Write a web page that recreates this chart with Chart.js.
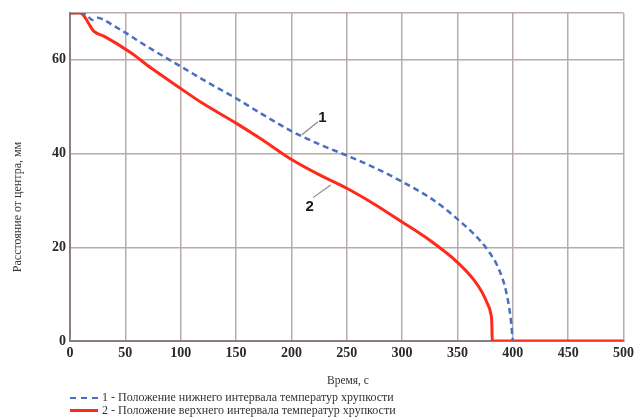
<!DOCTYPE html>
<html>
<head>
<meta charset="utf-8">
<script src="https://cdn.jsdelivr.net/npm/chart.js@4"></script>
<style>
  body { margin: 0; background: #fff; }
  #wrap { position: relative; width: 638px; height: 419px; }
  .legend { position: absolute; left: 70px; font-family: "Liberation Serif", serif; font-size: 12px; color: #333; }
  .legend div { display: flex; align-items: center; height: 13px; }
  .legend span.s { display: inline-block; width: 28px; margin-right: 4px; }
</style>
</head>
<body>
<div id="wrap">
  <canvas id="chart" width="638" height="419"></canvas>
  <div class="legend" style="top:391px">
    <div><span class="s" style="border-top:2.5px dashed #4a6fc0"></span>1 - Положение нижнего интервала температур хрупкости</div>
    <div><span class="s" style="border-top:3px solid #ff2a1a"></span>2 - Положение верхнего интервала температур хрупкости</div>
  </div>
</div>
<script>
// time, s
const lowerTime = [0, 10, 15, 20, 25, 30, 40, 50, 70, 100, 125, 150, 175, 200, 225, 250, 275, 300, 325, 340, 352, 365, 378, 388, 394, 398, 400];
// distance from centre, mm (curve 1, lower interval)
const lowerDist = [70, 70, 69.6, 68.5, 69, 68.6, 67.2, 65.8, 62.8, 58.6, 55.1, 51.8, 48.2, 44.8, 42, 39.6, 37, 34, 30.6, 28, 25.6, 22.8, 19.2, 15, 10.5, 5, 0];

const upperTime = [0, 9, 22, 31, 55, 73, 95, 118, 150, 172, 199, 225, 250, 275, 300, 325, 350, 365, 372, 377, 380, 381, 381.5, 500];
// curve 2, upper interval
const upperDist = [70, 70, 66, 65, 61.5, 58.3, 54.7, 51, 46.5, 43.2, 38.9, 35.5, 32.6, 29.2, 25.4, 21.5, 16.8, 13, 10.5, 8, 6, 4, 0, 0];

const xTicks = [0, 50, 100, 150, 200, 250, 300, 350, 400, 450, 500];
const yTicks = [0, 20, 40, 60];

const toPoints = (xs, ys) => xs.map((x, i) => ({ x: x, y: ys[i] }));

// numbered callouts with leader lines
const callouts = [
  { text: "1", at: [228, 47.6], line: [[224, 46.8], [209.5, 44]] },
  { text: "2", at: [216.5, 28.6], line: [[219.5, 30.6], [235.5, 33.3]] },
];

const extras = {
  id: "extras",
  afterDatasetsDraw(chart) {
    const { ctx, scales } = chart;
    const x = scales.x, y = scales.y;
    ctx.save();
    ctx.strokeStyle = "#8a8a8a";
    ctx.lineWidth = 1.2;
    ctx.fillStyle = "#1a1a1a";
    ctx.font = "bold 15px 'Liberation Sans', sans-serif";
    ctx.textAlign = "center";
    ctx.textBaseline = "middle";
    callouts.forEach(c => {
      ctx.beginPath();
      ctx.moveTo(x.getPixelForValue(c.line[0][0]), y.getPixelForValue(c.line[0][1]));
      ctx.lineTo(x.getPixelForValue(c.line[1][0]), y.getPixelForValue(c.line[1][1]));
      ctx.stroke();
      ctx.fillText(c.text, x.getPixelForValue(c.at[0]), y.getPixelForValue(c.at[1]));
    });
    // axis titles
    ctx.fillStyle = "#333";
    ctx.font = "11.5px 'Liberation Serif', serif";
    ctx.fillText("Время, с", 348, 381);
    ctx.font = "12px 'Liberation Serif', serif";
    ctx.translate(18, 207);
    ctx.rotate(-Math.PI / 2);
    ctx.fillText("Расстояние от центра, мм", 0, 0);
    ctx.restore();
  },
};

new Chart(document.getElementById("chart"), {
  type: "line",
  data: {
    datasets: [
      {
        label: "1",
        data: toPoints(lowerTime, lowerDist),
        borderColor: "#4a6fc0",
        borderWidth: 2.5,
        borderDash: [6, 4],
        pointRadius: 0,
        cubicInterpolationMode: "monotone",
      },
      {
        label: "2",
        data: toPoints(upperTime, upperDist),
        borderColor: "#ff2a1a",
        borderWidth: 3,
        pointRadius: 0,
        cubicInterpolationMode: "monotone",
      },
    ],
  },
  options: {
    responsive: false,
    animation: false,
    devicePixelRatio: 1,
    layout: { padding: { left: 0, right: 14, top: 13, bottom: 0 } },
    plugins: { legend: { display: false }, tooltip: { enabled: false } },
    scales: {
      x: {
        type: "linear",
        min: 0,
        max: 500,
        afterBuildTicks: s => { s.ticks = xTicks.map(v => ({ value: v })); },
        afterFit: s => { s.height = 78; },
        ticks: { color: "#2a2a2a", font: { family: "'Liberation Serif', serif", size: 14, weight: "bold" }, padding: 4 },
        grid: { color: "#b7aca7", lineWidth: 1.5, drawTicks: false },
        border: { color: "#8c7f79", width: 2 },
      },
      y: {
        min: 0,
        max: 70,
        afterBuildTicks: s => { s.ticks = yTicks.concat([70]).map(v => ({ value: v })); },
        afterFit: s => { s.width = 70; },
        ticks: {
          color: "#2a2a2a",
          font: { family: "'Liberation Serif', serif", size: 14, weight: "bold" },
          padding: 4,
          callback: v => (v === 70 ? "" : v),
        },
        grid: { color: "#b7aca7", lineWidth: 1.5, drawTicks: false },
        border: { color: "#8c7f79", width: 2 },
      },
    },
  },
  plugins: [extras],
});
</script>
</body>
</html>
